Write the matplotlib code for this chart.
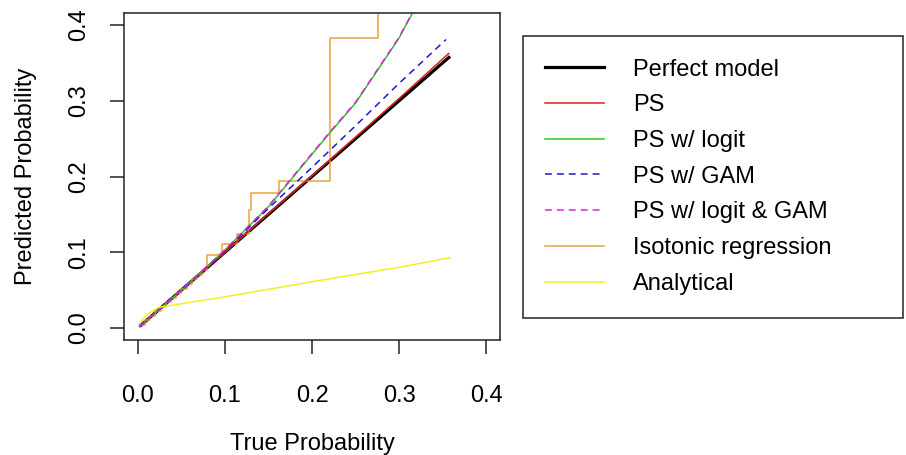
import matplotlib
matplotlib.use('Agg')
import matplotlib.pyplot as plt
from matplotlib.lines import Line2D

plt.rcParams['font.family'] = ['Liberation Sans', 'DejaVu Sans']

# ---- data ----
perfect_x = [0.002, 0.05, 0.1, 0.15, 0.2, 0.25, 0.3, 0.3587]
perfect_y = [0.002, 0.05, 0.1, 0.15, 0.2, 0.25, 0.3, 0.3587]

ps_x = [0.002, 0.05, 0.1, 0.15, 0.2, 0.25, 0.3, 0.357]
ps_y = [0.002, 0.05, 0.1, 0.151, 0.201, 0.252, 0.303, 0.3625]

logit_x = [0.002, 0.05, 0.1, 0.15, 0.186, 0.22, 0.25, 0.278, 0.3, 0.316, 0.358]
logit_y = [0.002, 0.05, 0.103, 0.16, 0.21, 0.257, 0.297, 0.345, 0.383, 0.417, 0.505]

gam_x = [0.002, 0.05, 0.1, 0.15, 0.2, 0.25, 0.3, 0.354]
gam_y = [0.002, 0.05, 0.102, 0.158, 0.212, 0.267, 0.323, 0.381]

logit_gam_x = [0.002, 0.05, 0.1, 0.15, 0.186, 0.22, 0.25, 0.278, 0.3, 0.316, 0.358]
logit_gam_y = [0.002, 0.05, 0.103, 0.161, 0.211, 0.258, 0.298, 0.346, 0.384, 0.418, 0.506]

iso_x = [0.002, 0.008, 0.014, 0.020, 0.026, 0.032, 0.038, 0.044, 0.050, 0.056,
         0.062, 0.068, 0.074, 0.0791, 0.0963, 0.1135, 0.1272, 0.1295, 0.1623,
         0.2204, 0.2758, 0.358]
iso_y = [0.004, 0.010, 0.016, 0.022, 0.028, 0.034, 0.040, 0.046, 0.052, 0.058,
         0.064, 0.070, 0.076, 0.0963, 0.1105, 0.1241, 0.1559, 0.1788, 0.1943,
         0.3833, 0.46, 0.46]

ana_x = [0.002, 0.006, 0.012, 0.024, 0.05, 0.1, 0.2, 0.3, 0.3587]
ana_y = [0.006, 0.012, 0.019, 0.027, 0.032, 0.041, 0.061, 0.080, 0.0927]

labels = ['Perfect model', 'PS', 'PS w/ logit', 'PS w/ GAM',
          'PS w/ logit & GAM', 'Isotonic regression', 'Analytical']
ticks = [0.0, 0.1, 0.2, 0.3, 0.4]
tick_labels = ['0.0', '0.1', '0.2', '0.3', '0.4']

# ---- styles ----
FS = 17
thin = 1.1
dash = (0, (4.5, 3.3))
c_black = 'black'
c_red = '#dd2222'
c_green = '#22cc22'
c_blue = '#1a1acc'
c_mag = '#dd22dd'
c_orange = '#e8a33a'
c_yellow = '#f2ee22'

W, H = 906, 455
fig = plt.figure(figsize=(W / 100, H / 100), dpi=100)
ax = fig.add_axes([124 / W, 1 - 340 / H, 376 / W, 327 / H])

ax.plot(perfect_x, perfect_y, color=c_black, lw=2.3, solid_capstyle='butt')
ax.step(iso_x, iso_y, where='post', color=c_orange, lw=thin)
ax.plot(ps_x, ps_y, color=c_red, lw=thin)
ax.plot(logit_x, logit_y, color=c_green, lw=thin)
ax.plot(gam_x, gam_y, color=c_blue, lw=thin, linestyle=dash)
ax.plot(logit_gam_x, logit_gam_y, color=c_mag, lw=thin, linestyle=dash)
ax.plot(ana_x, ana_y, color=c_yellow, lw=thin)

ax.set_xlim(-0.016, 0.416)
ax.set_ylim(-0.016, 0.416)
ax.set_xticks(ticks)
ax.set_xticklabels(tick_labels)
ax.set_yticks(ticks)
ax.set_yticklabels(tick_labels, rotation=90, va='center')

for s in ax.spines.values():
    s.set_linewidth(1.1)
    s.set_color('#222222')

ax.tick_params(axis='both', direction='out', length=10, width=1.1,
               color='#222222', labelsize=FS)
ax.tick_params(axis='x', pad=22.5)
ax.tick_params(axis='y', pad=14.5)

ax.set_xlabel('True Probability', fontsize=FS, labelpad=18.5)
ax.set_ylabel('Predicted Probability', fontsize=FS, labelpad=22)

handles = [
    Line2D([], [], color=c_black, lw=2.3),
    Line2D([], [], color=c_red, lw=thin),
    Line2D([], [], color=c_green, lw=thin),
    Line2D([], [], color=c_blue, lw=thin, linestyle=dash),
    Line2D([], [], color=c_mag, lw=thin, linestyle=dash),
    Line2D([], [], color=c_orange, lw=thin),
    Line2D([], [], color=c_yellow, lw=thin),
]
leg = ax.legend(handles, labels, loc='upper left',
                bbox_to_anchor=(522.7 / W, 1 - 36 / H, (903 - 522.7) / W, 0),
                bbox_transform=fig.transFigure, mode='expand', borderaxespad=0,
                fontsize=FS, frameon=True, fancybox=False, framealpha=1,
                edgecolor='#222222', handlelength=2.5, handletextpad=1.2,
                labelspacing=0.58, borderpad=0.96)
leg.get_frame().set_linewidth(1.1)

fig.savefig('out.png', dpi=100)
